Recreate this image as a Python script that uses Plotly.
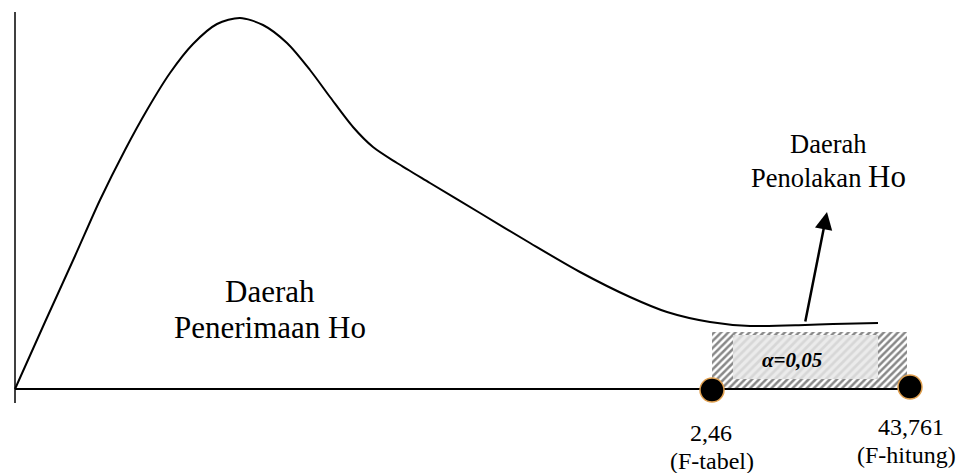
import plotly.graph_objects as go

# F-distribution sketch (hand-drawn style), coordinates in chart units
curve_x = [0, 30, 60, 85, 110, 132, 155, 178, 202, 225, 248, 272, 295, 315, 338, 358, 382, 415,
           465, 515, 565, 615, 652, 695, 735, 790, 818, 863]
curve_y = [0, 67, 133, 189, 239, 279, 316, 345, 365, 371, 364, 346, 319, 292, 262, 242, 226, 206,
           176, 146, 117, 92, 77, 67, 63, 64, 65, 66]

f_tabel = 697
f_hitung = 895
point_x = [f_tabel, f_hitung]
point_y = [-1, 2]
value_labels = ["2,46", "43,761"]
name_labels = ["(F-tabel)", "(F-hitung)"]

outer_x = [697, 892, 892, 697, 697]
outer_y = [1, 1, 57, 57, 1]
inner_x = [718, 863, 863, 718, 718]
inner_y = [10, 10, 54, 54, 10]

fig = go.Figure()

# hatched rejection region
fig.add_trace(go.Scatter(x=outer_x, y=outer_y, mode="lines", fill="toself",
                         line=dict(color="rgba(0,0,0,0)", width=0),
                         fillcolor="white",
                         fillpattern=dict(shape="/", fgcolor="#111", bgcolor="white",
                                          size=5, solidity=0.5),
                         hoverinfo="skip", showlegend=False))
fig.add_trace(go.Scatter(x=inner_x, y=inner_y, mode="lines", fill="toself",
                         line=dict(color="rgba(0,0,0,0)", width=0),
                         fillcolor="#e2e2e2",
                         fillpattern=dict(shape="/", fgcolor="#c4c4c4", bgcolor="#ebebeb",
                                          size=6, solidity=0.45),
                         hoverinfo="skip", showlegend=False))

# axes
fig.add_trace(go.Scatter(x=[0, 0], y=[-14, 377], mode="lines",
                         line=dict(color="black", width=1.5), showlegend=False, hoverinfo="skip"))
fig.add_trace(go.Scatter(x=[0, f_hitung], y=[0, 0], mode="lines",
                         line=dict(color="black", width=2), showlegend=False, hoverinfo="skip"))

# curve
fig.add_trace(go.Scatter(x=curve_x, y=curve_y, mode="lines",
                         line=dict(color="black", width=2, shape="spline", smoothing=0.8),
                         showlegend=False, hoverinfo="skip"))

# points
fig.add_trace(go.Scatter(x=point_x, y=point_y, mode="markers",
                         marker=dict(size=24, color="black", line=dict(color="#e0a050", width=1.5)),
                         showlegend=False, hoverinfo="skip"))

serif = "Liberation Serif"

ann = []
ann.append(dict(x=255, y=98, text="Daerah", showarrow=False, font=dict(family=serif, size=31, color="black")))
ann.append(dict(x=255, y=62, text="Penerimaan Ho", showarrow=False, font=dict(family=serif, size=31, color="black")))
ann.append(dict(x=813, y=245, text="Daerah", showarrow=False, font=dict(family=serif, size=26.5, color="black")))
ann.append(dict(x=813, y=213, text="Penolakan <span style='font-size:31px'>Ho</span>", showarrow=False,
                font=dict(family=serif, size=26.5, color="black")))
ann.append(dict(x=777, y=29, text="<b><i>α=0,05</i></b>", showarrow=False,
                font=dict(family=serif, size=21, color="black")))
ann.append(dict(x=812, y=177, ax=790, ay=66, axref="x", ayref="y", text="", showarrow=True,
                arrowhead=2, arrowsize=1.4, arrowwidth=2.5, arrowcolor="black"))
ann.append(dict(x=696, y=-44, text=value_labels[0], showarrow=False,
                font=dict(family=serif, size=24, color="black")))
ann.append(dict(x=697, y=-72, text=name_labels[0], showarrow=False,
                font=dict(family=serif, size=24, color="black")))
ann.append(dict(x=896, y=-38, text=value_labels[1], showarrow=False,
                font=dict(family=serif, size=24, color="black")))
ann.append(dict(x=891, y=-66, text=name_labels[1], showarrow=False,
                font=dict(family=serif, size=24, color="black")))

fig.update_layout(
    width=968, height=473,
    margin=dict(l=0, r=0, t=0, b=0),
    paper_bgcolor="white", plot_bgcolor="white",
    xaxis=dict(range=[-15, 953], visible=False, fixedrange=True),
    yaxis=dict(range=[-84, 389], visible=False, fixedrange=True),
    annotations=ann,
    showlegend=False,
)

fig.write_html("out.html", config={"displayModeBar": False},
               post_script="document.body.style.margin='0';document.body.style.overflow='hidden';")
